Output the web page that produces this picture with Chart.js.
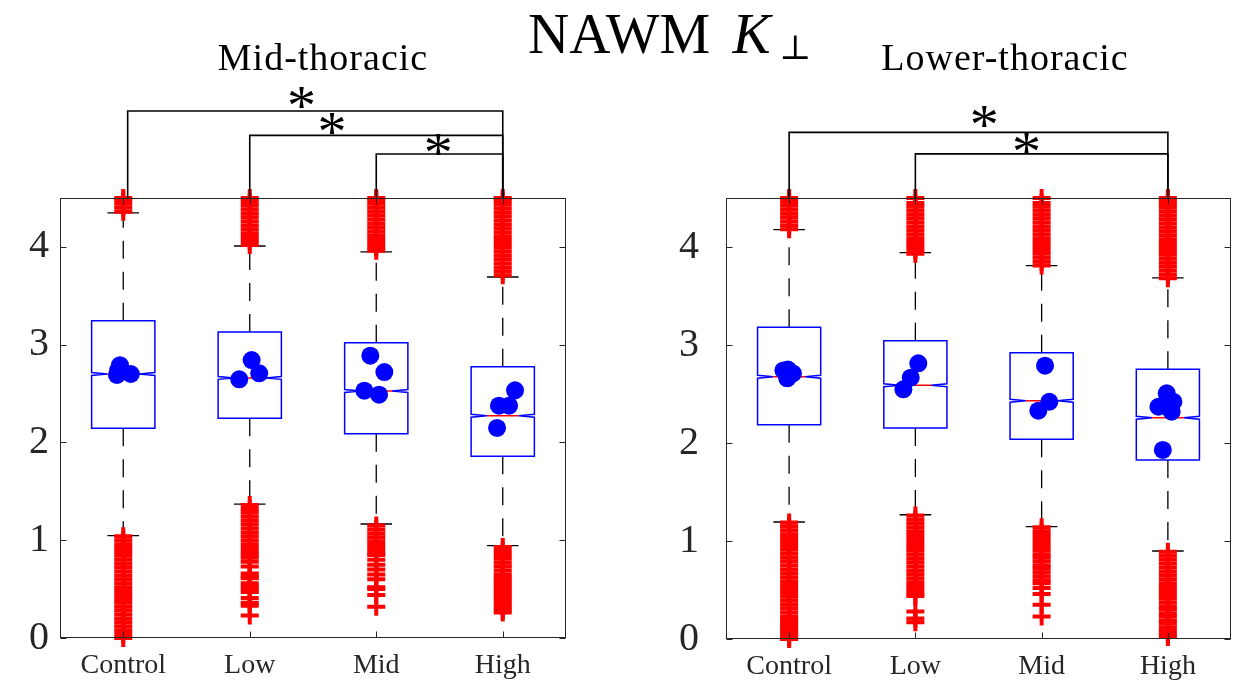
<!DOCTYPE html>
<html>
<head>
<meta charset="utf-8">
<title>NAWM K⊥</title>
<script src="https://cdn.jsdelivr.net/npm/chart.js@4.4.1/dist/chart.umd.min.js"></script>
<style>
  body { margin: 0; background: #fff; }
  #wrap { position: relative; width: 1239px; height: 683px; overflow: hidden; font-family: 'Liberation Serif', serif; }
  canvas { position: absolute; top: 0; }
  #midChart { left: 0; }
  #lowChart { left: 620px; }
  .txt { position: absolute; white-space: nowrap; line-height: 1; color: #000; }
  .sub { font-size: 38px; letter-spacing: 1px; transform: translateX(-50%); top: 38px; }
  #title { left: 528px; top: 5px; font-size: 57px; }
  #title i { margin-left: 8px; }
  #title sub { font-family: 'DejaVu Serif', serif; font-size: 34px; vertical-align: -6px; margin-left: 9px; }
</style>
</head>
<body>
<div id="wrap">
  <canvas id="midChart" width="620" height="683"></canvas>
  <canvas id="lowChart" width="649" height="683"></canvas>
  <div class="txt" id="title">NAWM <i>K</i><sub>⊥</sub></div>
  <div class="txt sub" style="left:323px">Mid-thoracic</div>
  <div class="txt sub" style="left:1005px">Lower-thoracic</div>
</div>
<script>
// Data
const categories = ['Control', 'Low', 'Mid', 'High'];
const yTicks = [0, 1, 2, 3, 4];

// Mid-thoracic
const midQ1 = [2.145, 2.247, 2.089, 1.858];
const midMedian = [2.70, 2.66, 2.526, 2.273];
const midQ3 = [3.245, 3.13, 3.02, 2.775];
const midWhiskerLow = [1.046, 1.37, 1.166, 0.944];
const midWhiskerHigh = [4.347, 4.009, 3.95, 3.692];
const midSubjX = [[0.974, 0.95, 1.06, 0.96], [2.015, 2.075, 1.917], [2.953, 3.064, 2.906, 3.022], [4.097, 3.97, 4.05, 3.955]];
const midSubjY = [[2.79, 2.69, 2.70, 2.74], [2.843, 2.707, 2.646], [2.887, 2.72, 2.529, 2.488], [2.533, 2.376, 2.376, 2.148]];
const midOutliers = [
  [4.36, 4.40, 4.44, 4.48, 4.50, 1.04, 1.00, 0.96, 0.92, 0.88, 0.84, 0.80, 0.76, 0.72, 0.68, 0.64, 0.60, 0.56, 0.52, 0.48, 0.44, 0.40, 0.36, 0.32, 0.28, 0.24, 0.20, 0.16, 0.12, 0.08, 0.04, 0.00],
  [4.02, 4.06, 4.10, 4.14, 4.18, 4.22, 4.26, 4.30, 4.34, 4.38, 4.42, 4.46, 4.50, 1.36, 1.32, 1.28, 1.24, 1.20, 1.16, 1.12, 1.08, 1.04, 1.00, 0.96, 0.92, 0.88, 0.85, 0.82, 0.78, 0.73, 0.66, 0.63, 0.61, 0.56, 0.53, 0.50, 0.47, 0.41, 0.36, 0.33, 0.23],
  [3.96, 4.00, 4.04, 4.08, 4.12, 4.16, 4.20, 4.24, 4.28, 4.32, 4.36, 4.40, 4.44, 4.48, 4.50, 1.15, 1.11, 1.07, 1.03, 0.99, 0.95, 0.91, 0.87, 0.85, 0.80, 0.75, 0.70, 0.65, 0.60, 0.52, 0.50, 0.44, 0.32],
  [3.71, 3.75, 3.79, 3.83, 3.87, 3.91, 3.95, 3.99, 4.03, 4.07, 4.11, 4.15, 4.19, 4.23, 4.27, 4.31, 4.35, 4.39, 4.43, 4.47, 4.50, 0.93, 0.89, 0.85, 0.81, 0.77, 0.73, 0.69, 0.65, 0.62, 0.59, 0.56, 0.53, 0.50, 0.47, 0.44, 0.41, 0.38, 0.35, 0.32, 0.29, 0.26]
];
const midPairs = [[1.035, 4], [2, 4], [3, 4]];
const midPairLevels = [5.39, 5.14, 4.95];
const midStarX = [2.41, 2.65, 3.49];
const midStarY = [5.53, 5.26, 5.05];

// Lower-thoracic
const lowQ1 = [2.187, 2.153, 2.038, 1.827];
const lowMedian = [2.676, 2.589, 2.432, 2.258];
const lowQ3 = [3.18, 3.044, 2.921, 2.752];
const lowWhiskerLow = [1.194, 1.268, 1.146, 0.898];
const lowWhiskerHigh = [4.177, 3.942, 3.809, 3.684];
const lowSubjX = [[0.955, 0.99, 1.03, 0.985], [2.023, 1.963, 1.905], [3.027, 3.061, 2.974], [3.991, 4.044, 3.925, 4.03, 3.96]];
const lowSubjY = [[2.74, 2.75, 2.71, 2.66], [2.813, 2.666, 2.548], [2.789, 2.421, 2.33], [2.507, 2.421, 2.37, 2.319, 1.929]];
const lowOutliers = [
  [4.18, 4.22, 4.26, 4.30, 4.34, 4.38, 4.42, 4.46, 4.50, 1.19, 1.15, 1.11, 1.07, 1.03, 0.99, 0.95, 0.91, 0.87, 0.83, 0.79, 0.75, 0.71, 0.67, 0.63, 0.59, 0.55, 0.51, 0.47, 0.43, 0.39, 0.35, 0.31, 0.27, 0.23, 0.20, 0.17, 0.14, 0.11, 0.08, 0.05, 0.02, 0.00],
  [3.93, 3.97, 4.01, 4.05, 4.09, 4.13, 4.17, 4.21, 4.25, 4.29, 4.33, 4.37, 4.41, 4.45, 4.50, 1.26, 1.22, 1.18, 1.14, 1.10, 1.06, 1.02, 0.98, 0.94, 0.90, 0.86, 0.82, 0.78, 0.74, 0.70, 0.66, 0.62, 0.58, 0.54, 0.50, 0.46, 0.44, 0.28, 0.21, 0.17],
  [3.81, 3.85, 3.89, 3.93, 3.97, 4.01, 4.05, 4.09, 4.13, 4.17, 4.21, 4.25, 4.29, 4.33, 4.37, 4.41, 4.45, 4.50, 1.14, 1.10, 1.06, 1.02, 0.98, 0.94, 0.90, 0.86, 0.83, 0.79, 0.75, 0.72, 0.68, 0.64, 0.60, 0.57, 0.52, 0.46, 0.35, 0.23],
  [3.68, 3.72, 3.76, 3.80, 3.84, 3.88, 3.92, 3.96, 4.00, 4.04, 4.08, 4.12, 4.16, 4.20, 4.24, 4.28, 4.32, 4.36, 4.40, 4.44, 4.48, 4.50, 0.89, 0.85, 0.81, 0.77, 0.73, 0.69, 0.65, 0.61, 0.57, 0.53, 0.49, 0.45, 0.41, 0.37, 0.33, 0.30, 0.26, 0.23, 0.19, 0.16, 0.12, 0.09, 0.05, 0.02]
];
const lowPairs = [[1, 4], [2, 4]];
const lowPairLevels = [5.17, 4.95];
const lowStarX = [2.545, 2.88];
const lowStarY = [5.33, 5.06];

const serif = "'Liberation Serif', serif";
const axisColor = '#262626';

// boxes, whiskers, frame and significance brackets
function makeBoxPlugin(p) {
  return {
    id: 'boxes',
    beforeDatasetsDraw(chart) {
      const {ctx, scales: {x, y}} = chart;
      const py = v => y.getPixelForValue(v);
      ctx.save();
      p.q1.forEach((q1, i) => {
        const c = i + 1, q3 = p.q3[i], med = p.median[i], n = 0.015;
        const cx = x.getPixelForValue(c);
        const L = x.getPixelForValue(c - 0.25), R = x.getPixelForValue(c + 0.25);
        const Li = x.getPixelForValue(c - 0.125), Ri = x.getPixelForValue(c + 0.125);
        // dashed whiskers
        ctx.strokeStyle = '#000';
        ctx.lineWidth = 1.3;
        ctx.setLineDash([18, 13]);
        ctx.beginPath();
        ctx.moveTo(cx, py(q3)); ctx.lineTo(cx, py(p.hiW[i]));
        ctx.moveTo(cx, py(q1)); ctx.lineTo(cx, py(p.loW[i]));
        ctx.stroke();
        ctx.setLineDash([]);
        // caps
        ctx.beginPath();
        ctx.moveTo(Li, py(p.hiW[i])); ctx.lineTo(Ri, py(p.hiW[i]));
        ctx.moveTo(Li, py(p.loW[i])); ctx.lineTo(Ri, py(p.loW[i]));
        ctx.stroke();
        // notched box
        ctx.strokeStyle = '#0000ff';
        ctx.lineWidth = 1.5;
        ctx.beginPath();
        ctx.moveTo(L, py(q3)); ctx.lineTo(R, py(q3));
        ctx.lineTo(R, py(med + n)); ctx.lineTo(Ri, py(med)); ctx.lineTo(R, py(med - n));
        ctx.lineTo(R, py(q1)); ctx.lineTo(L, py(q1));
        ctx.lineTo(L, py(med - n)); ctx.lineTo(Li, py(med)); ctx.lineTo(L, py(med + n));
        ctx.closePath();
        ctx.stroke();
        // median
        ctx.strokeStyle = '#ff0000';
        ctx.beginPath();
        ctx.moveTo(Li, py(med)); ctx.lineTo(Ri, py(med));
        ctx.stroke();
      });
      ctx.restore();
    },
    afterDraw(chart) {
      const {ctx, chartArea: a, scales: {x, y}} = chart;
      const l = Math.round(a.left) + 0.5, r = Math.round(a.right) - 0.5;
      const t = Math.round(a.top) + 0.5, b = Math.round(a.bottom) - 0.5;
      ctx.save();
      ctx.strokeStyle = axisColor;
      ctx.lineWidth = 1;
      ctx.strokeRect(l, t, r - l, b - t);
      ctx.beginPath();
      yTicks.forEach(v => {
        const yy = Math.round(y.getPixelForValue(v)) + 0.5;
        ctx.moveTo(l, yy); ctx.lineTo(l + 6, yy);
        ctx.moveTo(r, yy); ctx.lineTo(r - 6, yy);
      });
      categories.forEach((c, i) => {
        const xx = Math.round(x.getPixelForValue(i + 1)) + 0.5;
        ctx.moveTo(xx, b); ctx.lineTo(xx, b - 6);
        ctx.moveTo(xx, t); ctx.lineTo(xx, t + 6);
      });
      ctx.stroke();
      // brackets
      ctx.strokeStyle = '#000';
      ctx.lineWidth = 1.6;
      p.pairs.forEach((pr, i) => {
        const x1 = x.getPixelForValue(pr[0]), x2 = x.getPixelForValue(pr[1]);
        const yy = y.getPixelForValue(p.levels[i]);
        ctx.beginPath();
        ctx.moveTo(x1, a.top); ctx.lineTo(x1, yy); ctx.lineTo(x2, yy); ctx.lineTo(x2, a.top);
        ctx.stroke();
      });
      ctx.fillStyle = '#000';
      ctx.font = '58px ' + serif;
      ctx.textAlign = 'center';
      ctx.textBaseline = 'alphabetic';
      const m = ctx.measureText('*');
      const off = (m.actualBoundingBoxAscent - m.actualBoundingBoxDescent) / 2;
      p.starX.forEach((sx, i) => {
        ctx.fillText('*', x.getPixelForValue(sx), y.getPixelForValue(p.starY[i]) + off);
      });
      ctx.restore();
    }
  };
}

function toPoints(xs, ys) {
  return xs.flatMap((row, i) => row.map((xv, j) => ({x: xv, y: ys[i][j]})));
}

function boxChart(id, p) {
  return new Chart(document.getElementById(id), {
    type: 'scatter',
    data: {
      datasets: [{
        label: 'subjects',
        data: toPoints(p.subjX, p.subjY),
        pointStyle: 'circle',
        pointRadius: 9,
        backgroundColor: '#0000ff',
        borderWidth: 0,
        clip: false
      }, {
        label: 'outliers',
        data: p.outliers.flatMap((vals, i) => vals.map(v => ({x: i + 1, y: v}))),
        pointStyle: 'cross',
        pointRadius: 9,
        borderColor: '#ff0000',
        borderWidth: 4,
        clip: false
      }]
    },
    options: {
      responsive: false,
      animation: false,
      events: [],
      layout: {padding: {top: 198, right: p.padRight, left: p.padLeft, bottom: 0}},
      plugins: {legend: {display: false}, tooltip: {enabled: false}},
      scales: {
        x: {
          type: 'linear', min: 0.5, max: 4.5,
          afterBuildTicks: s => { s.ticks = categories.map((c, i) => ({value: i + 1})); },
          afterFit: s => { s.height = p.xAxisH; s.paddingLeft = 0; s.paddingRight = 0; },
          grid: {display: false, drawTicks: false},
          border: {display: false},
          ticks: {
            callback: v => categories[v - 1],
            font: {family: serif, size: 28},
            color: axisColor, padding: 11, maxRotation: 0, autoSkip: false
          }
        },
        y: {
          min: 0, max: 4.5,
          afterBuildTicks: s => { s.ticks = yTicks.map(v => ({value: v})); },
          afterFit: s => { s.width = p.yAxisW; s.paddingTop = 0; s.paddingBottom = 0; },
          grid: {display: false, drawTicks: false},
          border: {display: false},
          ticks: {font: {family: serif, size: 40}, color: axisColor, padding: 10, crossAlign: 'far'}
        }
      }
    },
    plugins: [makeBoxPlugin(p)]
  });
}

boxChart('midChart', {
  q1: midQ1, median: midMedian, q3: midQ3, loW: midWhiskerLow, hiW: midWhiskerHigh,
  subjX: midSubjX, subjY: midSubjY, outliers: midOutliers,
  pairs: midPairs, levels: midPairLevels, starX: midStarX, starY: midStarY,
  padLeft: 29, padRight: 54, xAxisH: 45, yAxisW: 31
});
boxChart('lowChart', {
  q1: lowQ1, median: lowMedian, q3: lowQ3, loW: lowWhiskerLow, hiW: lowWhiskerHigh,
  subjX: lowSubjX, subjY: lowSubjY, outliers: lowOutliers,
  pairs: lowPairs, levels: lowPairLevels, starX: lowStarX, starY: lowStarY,
  padLeft: 59, padRight: 38, xAxisH: 44, yAxisW: 47
});
</script>
</body>
</html>
